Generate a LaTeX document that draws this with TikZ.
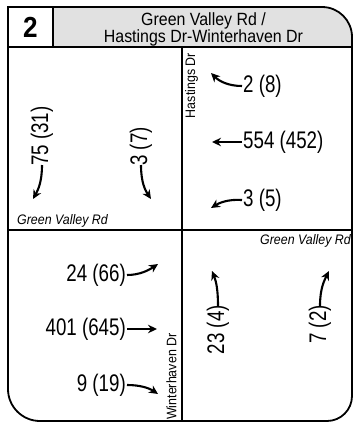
\documentclass[tikz,border=0pt]{standalone}
\usepackage{fontspec}
\setmainfont{Liberation Sans}[FakeStretch=0.9]
\newfontfamily\numfont{Liberation Sans}[FakeStretch=0.78]
\usetikzlibrary{arrows.meta}
\definecolor{hdrgray}{RGB}{225,225,225}
\begin{document}
\begin{tikzpicture}[x=1pt,y=-1pt,
  num/.style={inner sep=0pt,font=\numfont\fontsize{24}{24}\selectfont},
  road/.style={inner sep=0pt,font=\fontsize{13.8}{13.8}\selectfont},
  iroad/.style={inner sep=0pt,font=\fontsize{13.8}{13.8}\selectfont\itshape},
  arr/.style={line width=2.1pt,-{Stealth[length=9pt,width=8.5pt]}},
  frame/.style={line width=1.8pt},
  divider/.style={line width=2.2pt}]
\useasboundingbox (0,0) rectangle (354,424);
% header fill
\fill[hdrgray] (53,7) -- (322,7) .. controls (338.6,7) and (352,20.4) .. (352,37) -- (352,47) -- (53,47) -- cycle;
% header texts
\node[inner sep=0pt,font=\fontsize{29}{29}\selectfont\bfseries] (num) at (30.5,27.5) {2};
\node[inner sep=0pt,align=center,font=\fontsize{17.7}{15}\selectfont] (title) at (203.5,29.3) {Green Valley Rd /\\Hastings Dr-Winterhaven Dr};
% road names
\node[road,rotate=90,anchor=east] (hast) at (191.5,53) {Hastings Dr};
\node[road,rotate=90,anchor=west] (wint) at (171.5,420) {Winterhaven Dr};
\node[iroad,anchor=west] (gvw) at (17,221) {Green Valley Rd};
\node[iroad,anchor=west] (gve) at (260,241) {Green Valley Rd};
% top-right quadrant (westbound)
\node[num,anchor=west] (wl) at (243,86) {2 (8)};
\node[num,anchor=west] (wt) at (243,142) {554 (452)};
\node[num,anchor=west] (wr) at (243,200) {3 (5)};
\coordinate (wlh) at (211,73);
\coordinate (wth) at (212,142);
\coordinate (wrh) at (211,208);
\draw[arr] ([xshift=-1pt]wl.west) .. controls (228,86) and (219,81) .. (wlh);
\draw[arr] ([xshift=-1pt]wt.west) -- (wth);
\draw[arr] ([xshift=-1pt]wr.west) .. controls (228,199) and (219,203) .. (wrh);
% top-left quadrant (southbound)
\node[num,rotate=90,anchor=west] (sr) at (42,166) {75 (31)};
\node[num,rotate=90,anchor=west] (sl) at (141,166) {3 (7)};
\coordinate (srh) at (33,199);
\coordinate (slh) at (151,199);
\draw[arr] ([yshift=1pt]sr.west) .. controls (42,182) and (38,190) .. (srh);
\draw[arr] ([yshift=1pt]sl.west) .. controls (141,182) and (145,190) .. (slh);
% bottom-left quadrant (eastbound)
\node[num,anchor=east] (el) at (126,275) {24 (66)};
\node[num,anchor=east] (et) at (126,329) {401 (645)};
\node[num,anchor=east] (er) at (126,385) {9 (19)};
\coordinate (elh) at (158,264);
\coordinate (eth) at (157,329);
\coordinate (erh) at (158,394);
\draw[arr] ([xshift=1pt]el.east) .. controls (140,275) and (149,270) .. (elh);
\draw[arr] ([xshift=1pt]et.east) -- (eth);
\draw[arr] ([xshift=1pt]er.east) .. controls (140,385) and (149,388) .. (erh);
% bottom-right quadrant (northbound)
\node[num,rotate=90,anchor=east] (nl) at (218,305) {23 (4)};
\node[num,rotate=90,anchor=east] (nr) at (320,305) {7 (2)};
\coordinate (nlh) at (212,271);
\coordinate (nrh) at (329,271);
\draw[arr] ([yshift=-1pt]nl.east) .. controls (218,289) and (216,281) .. (nlh);
\draw[arr] ([yshift=-1pt]nr.east) .. controls (320,289) and (324,281) .. (nrh);
% dividers
\draw[frame] (53,7) -- (53,47);
\draw[frame] (8,47) -- (352,47);
\draw[divider] (182,47) -- (182,421);
\draw[divider] (8,230) -- (352,230);
% outer frame
\draw[frame] (8,7) -- (322,7) .. controls (338.6,7) and (352,20.4) .. (352,37)
  -- (352,396) .. controls (352,409.8) and (340.8,421) .. (327,421)
  -- (40,421) .. controls (22.3,421) and (8,406.7) .. (8,389) -- cycle;
\end{tikzpicture}
\end{document}
